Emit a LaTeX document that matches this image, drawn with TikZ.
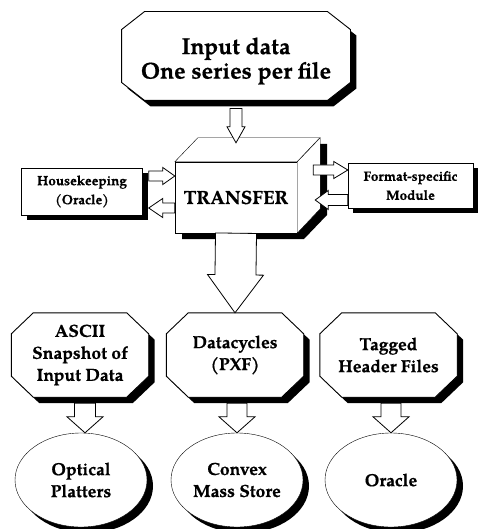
\documentclass[tikz,border=0pt]{standalone}
\usepackage{fontspec}
\setmainfont{TeX Gyre Pagella}[BoldFeatures={FakeBold=0.6}]
\usetikzlibrary{shapes.geometric,calc,shadows}
\pgfdeclarelayer{bg}
\pgfsetlayers{bg,main}
\tikzset{
  shad/.style={drop shadow={shadow xshift=6pt, shadow yshift=-6pt, fill=black, opacity=1}},
  octbox/.style={rectangle, draw=none, fill=none, minimum width=137pt, minimum height=84pt, inner sep=0pt, align=center,
    font=\bfseries\fontsize{17.5}{22}\selectfont},
  ellbox/.style={ellipse, draw, fill=white, minimum width=132pt, minimum height=94pt, inner sep=0pt,
    align=center, font=\bfseries\fontsize{17.5}{22}\selectfont, shad},
  sidebox/.style={rectangle, draw, fill=white, inner sep=0pt, align=center,
    font=\bfseries\fontsize{13.5}{19}\selectfont, drop shadow={shadow xshift=5pt, shadow yshift=-5pt, fill=black, opacity=1}},
  txt/.style={inner sep=0pt, align=center},
  blk/.style={draw, fill=white, line width=0.8pt, line join=miter},
  octline/.style={draw, fill=white, line width=0.9pt, line join=miter},
}
\newcommand\blockarrow[5]{%
  \coordinate (ba-c) at ($(#2)!#5!(#1)$);
  \draw[blk] ($(#1)!#3!90:(#2)$) -- ($(ba-c)!#3!90:(#2)$) -- ($(ba-c)!#4!90:(#2)$) -- (#2)
    -- ($(ba-c)!#4!-90:(#2)$) -- ($(ba-c)!#3!-90:(#2)$) -- ($(#1)!#3!-90:(#2)$) -- cycle;}
% octagon outline round a node: #1 node, #2 x cut, #3 y cut, #4 shadow offset
\newcommand\octagon[4]{%
  \begin{pgfonlayer}{bg}
  \fill[black] ([shift={(#2+#4,#4)}]#1.north west) -- ([shift={(-#2+#4,#4)}]#1.north east)
    -- ([shift={(#4,#3+#4)}]#1.north east) -- ([shift={(#4,-#3+#4)}]#1.south east)
    -- ([shift={(-#2+#4,#4)}]#1.south east) -- ([shift={(#2+#4,#4)}]#1.south west)
    -- ([shift={(#4,-#3+#4)}]#1.south west) -- ([shift={(#4,#3+#4)}]#1.north west) -- cycle;
  \path[octline] ([shift={(#2,0)}]#1.north west) -- ([shift={(-#2,0)}]#1.north east)
    -- ([shift={(0,#3)}]#1.north east) -- ([shift={(0,-#3)}]#1.south east)
    -- ([shift={(-#2,0)}]#1.south east) -- ([shift={(#2,0)}]#1.south west)
    -- ([shift={(0,-#3)}]#1.south west) -- ([shift={(0,#3)}]#1.north west) -- cycle;
  \end{pgfonlayer}}
\begin{document}
\begin{tikzpicture}[x=1pt,y=-1pt,line width=0.9pt]
\useasboundingbox (0,0) rectangle (478,529);
% top input box
\node[octbox, minimum width=228pt, minimum height=88pt] (top) at (236,56) {};
\octagon{top}{23}{18}{6}
\node[txt, font=\bfseries\fontsize{23}{24.5}\selectfont] (toptxt) at (236,61) {Input data\\{}One series per file};
% cube shadow
\fill[black] (182,168) -- (205,144) -- (327,144) -- (327,215) -- (304,239) -- (182,239) -- cycle;
% cube
\node[draw, fill=white, minimum width=122pt, minimum height=71pt, inner sep=0pt,
  font=\bfseries\fontsize{19}{22}\selectfont] (T) at (236,197.5) {TRANSFER};
\draw[fill=white, line join=miter] (T.north west) -- ++(23,-24) -- ++(122,0) -- (T.north east) -- cycle;
\draw[fill=white, line join=miter] (T.north east) -- ++(23,-24) -- ++(0,71) -- (T.south east) -- cycle;
% side boxes
\node[sidebox, minimum width=121pt, minimum height=47pt] (hk) at (82,191.5) {Housekeeping\\{}(Oracle)};
\node[sidebox, minimum width=125pt, minimum height=45pt] (fm) at (410.5,185.5) {Format-specific\\{}Module};
% bottom octagons
\node[octbox] (o1) at (80,355) {ASCII\\{}Snapshot of\\{}Input Data};
\node[octbox] (o2) at (235,355) {Datacycles\\{}(PXF)};
\node[octbox] (o3) at (388.5,355) {Tagged\\{}Header Files};
\octagon{o1}{22}{21}{6}
\octagon{o2}{22}{21}{6}
\octagon{o3}{22}{21}{6}
% ellipses
\node[ellbox] (e1) at (81,480) {Optical\\{}Platters};
\node[ellbox] (e2) at (237,480) {Convex\\{}Mass Store};
\node[ellbox] (e3) at (391,480) {Oracle};
% connector end points
\coordinate (a1s) at ($(top.south)+(0,8)$);
\coordinate (a1e) at ($(T.north)+(0,-19)$);
\coordinate (hkin1) at ($(hk.east)+(6,-15.5)$);
\coordinate (hkin2) at ($(hk.east)+(6,16.5)$);
\coordinate (Tw1) at ($(T.west)+(0,-21.5)$);
\coordinate (Tw2) at ($(T.west)+(0,10.5)$);
\coordinate (Te1) at ($(T.east)+(16,-27.5)$);
\coordinate (Te2) at ($(T.east)+(18,2.5)$);
\coordinate (fm1) at ($(fm.west)+(0,-15.5)$);
\coordinate (fm2) at ($(fm.west)+(0,14.5)$);
\coordinate (o1b) at ($(o1.south)+(5,6)$);
\coordinate (o2b) at ($(o2.south)+(2,6)$);
\coordinate (o3b) at ($(o3.south)+(2.5,6)$);
\coordinate (e1t) at ($(e1.north)+(4,0)$);
\coordinate (e2t) at ($(e2.north)+(0,0)$);
\coordinate (e3t) at ($(e3.north)+(0,0)$);
% connectors
\blockarrow{a1s}{a1e}{6pt}{9pt}{16pt}
\blockarrow{T.south}{o2.north}{20.5pt}{28pt}{38pt}
\blockarrow{hkin1}{Tw1}{5pt}{8.5pt}{12pt}
\blockarrow{Tw2}{hkin2}{5pt}{9.5pt}{14pt}
\blockarrow{Te1}{fm1}{5pt}{8.5pt}{14pt}
\blockarrow{fm2}{Te2}{5.5pt}{9.5pt}{13pt}
\blockarrow{o1b}{e1t}{10.5pt}{18pt}{16pt}
\blockarrow{o2b}{e2t}{10pt}{18pt}{16pt}
\blockarrow{o3b}{e3t}{10pt}{18pt}{16pt}
\end{tikzpicture}
\end{document}
